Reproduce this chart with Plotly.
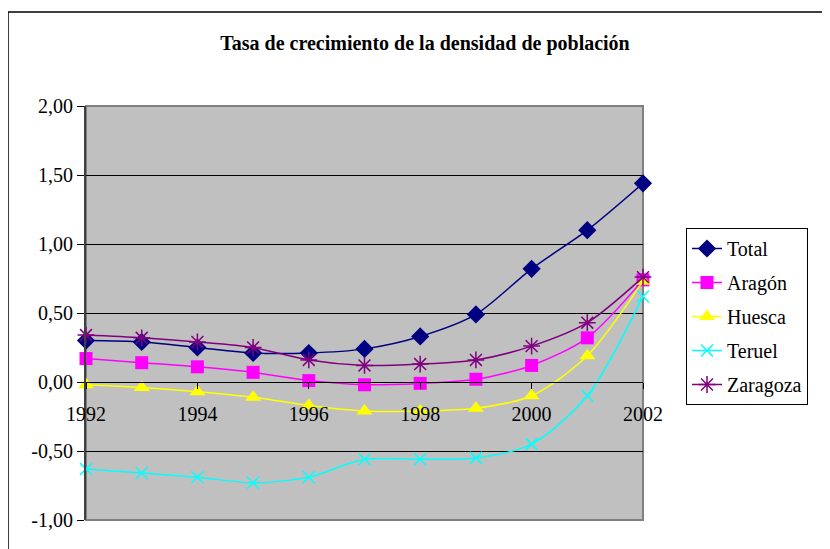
import plotly.graph_objects as go

years = [1992, 1993, 1994, 1995, 1996, 1997, 1998, 1999, 2000, 2001, 2002]
total = [0.30, 0.29, 0.25, 0.21, 0.21, 0.24, 0.33, 0.49, 0.82, 1.10, 1.44]
aragon = [0.17, 0.14, 0.11, 0.07, 0.01, -0.02, -0.01, 0.02, 0.12, 0.32, 0.74]
huesca = [-0.02, -0.04, -0.07, -0.11, -0.17, -0.21, -0.21, -0.19, -0.10, 0.19, 0.73]
teruel = [-0.63, -0.66, -0.69, -0.73, -0.69, -0.56, -0.56, -0.55, -0.45, -0.10, 0.62]
zaragoza = [0.34, 0.32, 0.29, 0.25, 0.16, 0.12, 0.13, 0.16, 0.26, 0.43, 0.76]

y_ticks = [-1.0, -0.5, 0.0, 0.5, 1.0, 1.5, 2.0]
y_labels = ["-1,00", "-0,50", "0,00", "0,50", "1,00", "1,50", "2,00"]
x_ticks = [1992, 1994, 1996, 1998, 2000, 2002]

series = [
    ("Total", total, "#000080", dict(symbol="diamond", size=14)),
    ("Aragón", aragon, "#FF00FF", dict(symbol="square", size=13)),
    ("Huesca", huesca, "#FFFF00", dict(symbol="triangle-up", size=14)),
    ("Teruel", teruel, "#00FFFF", dict(symbol="x-thin-open", size=12)),
    ("Zaragoza", zaragoza, "#800080", dict(symbol="asterisk-open", size=14)),
]

font_family = "Liberation Serif, Times New Roman, serif"

fig = go.Figure()
for name, vals, color, mk in series:
    marker = dict(color=color, **mk)
    if "open" in mk["symbol"]:
        marker["line"] = dict(color=color, width=1.5)
    else:
        marker["line"] = dict(width=0)
    fig.add_trace(go.Scatter(
        x=years, y=vals, name=name, mode="lines+markers",
        line=dict(color=color, width=1.5, shape="spline", smoothing=0.8),
        marker=marker, legendgroup=name, cliponaxis=False,
    ))

# page body has an 8px margin; figure coordinates are offset by it
OFF = 8
L, R, T, B = 86 - OFF, 643 - OFF, 106 - OFF, 520 - OFF
W, H = 830 - OFF, 549 - OFF
pw, ph = R - L, B - T

def px(xp):
    return (xp - OFF - L) / pw

def py(yp):
    return (B - (yp - OFF)) / ph

fig.update_layout(
    width=W, height=H,
    margin=dict(l=L, r=W - R, t=T, b=H - B, autoexpand=False),
    paper_bgcolor="white",
    plot_bgcolor="#C0C0C0",
    font=dict(family=font_family, size=20, color="black"),
    title=dict(
        text="<b>Tasa de crecimiento de la densidad de población</b>",
        x=(425 - OFF) / W, xref="container", xanchor="center",
        y=1 - (43 - OFF) / H, yanchor="middle",
        font=dict(family=font_family, size=20, color="black"),
    ),
    xaxis=dict(
        range=[1992, 2002], tickvals=x_ticks, ticktext=[str(v) for v in x_ticks],
        showgrid=False, zeroline=False,
        showline=True, linecolor="black", linewidth=1,
        anchor="free", position=py(382),
        ticks="outside", ticklen=6, tickcolor="black",
        ticklabelstandoff=8,
        tickfont=dict(family=font_family, size=20),
    ),
    yaxis=dict(
        range=[-1.0, 2.0], tickvals=y_ticks, ticktext=y_labels,
        showgrid=True, gridcolor="black", gridwidth=1,
        zeroline=False,
        showline=True, linecolor="#404040", linewidth=2,
        ticks="outside", ticklen=7, tickcolor="black",
        tickfont=dict(family=font_family, size=20),
    ),
    legend=dict(
        x=px(686), y=py(228), xanchor="left", yanchor="top",
        bordercolor="black", borderwidth=1, bgcolor="white",
        font=dict(family=font_family, size=20),
        tracegroupgap=5, traceorder="grouped",
    ),
    shapes=[
        dict(type="rect", xref="paper", yref="paper", x0=0, y0=0, x1=1, y1=1,
             line=dict(color="#808080", width=2), layer="below"),
        dict(type="rect", xref="paper", yref="paper",
             x0=px(8), y0=py(570), x1=px(850), y1=py(12),
             line=dict(color="black", width=1.5), layer="below"),
    ],
)

fig.write_html("out.html")
